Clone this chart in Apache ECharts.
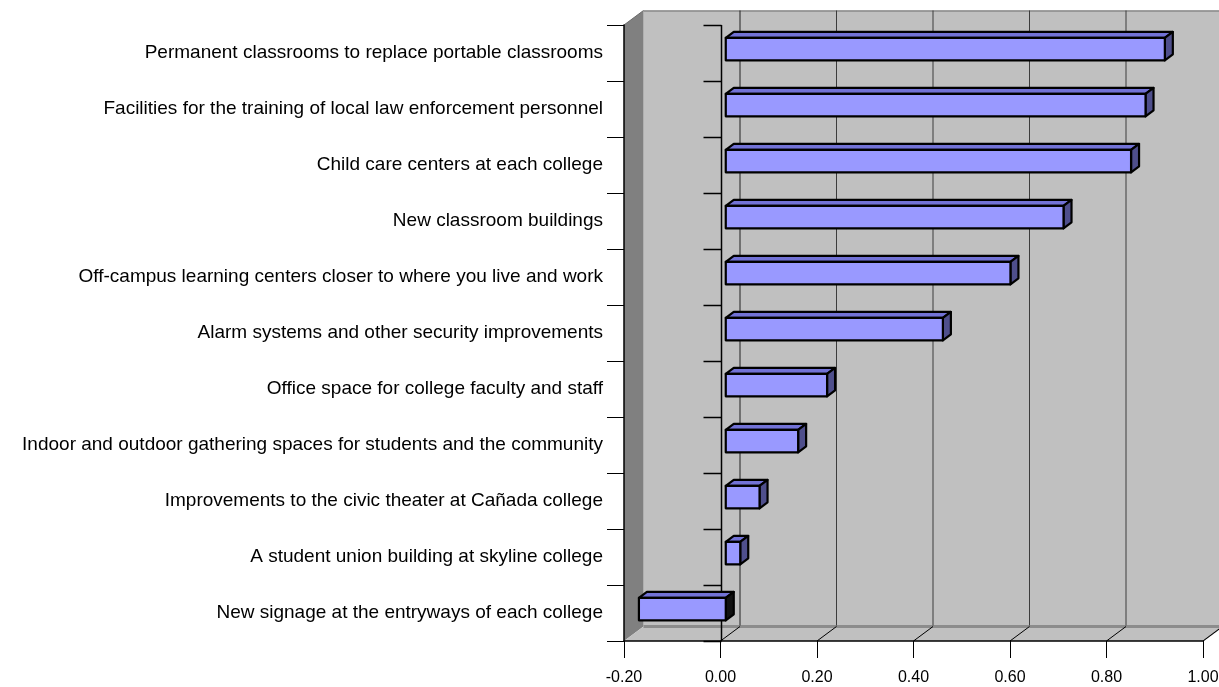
<!DOCTYPE html>
<html>
<head>
<meta charset="utf-8">
<title>Facility priorities</title>
<script src="https://cdn.jsdelivr.net/npm/echarts@6/dist/echarts.min.js"></script>
<style>
  html, body { margin: 0; padding: 0; background: #ffffff; }
  #chart { width: 1219px; height: 687px; }
</style>
</head>
<body>
<div id="chart"></div>
<script>
// Facility items, top to bottom
const categories = [
  'Permanent classrooms to replace portable classrooms',
  'Facilities for the training of local law enforcement personnel',
  'Child care centers at each college',
  'New classroom buildings',
  'Off-campus learning centers closer to where you live and work',
  'Alarm systems and other security improvements',
  'Office space for college faculty and staff',
  'Indoor and outdoor gathering spaces for students and the community',
  'Improvements to the civic theater at Cañada college',
  'A student union building at skyline college',
  'New signage at the entryways of each college'
];

// Net score for each item
const scores = [0.91, 0.87, 0.84, 0.70, 0.59, 0.45, 0.21, 0.15, 0.07, 0.03, -0.18];

// Value axis ticks
const tickValues = [-0.2, 0, 0.2, 0.4, 0.6, 0.8, 1.0];
const axisMin = -0.2;
const axisMax = 1.0;
const axisStep = 0.2;

// Oblique depth of the 3-D box in pixels and where the bars sit inside it
const DEPTH_X = 19.5;
const DEPTH_Y = -14.5;
const BAR_FRONT = 0.27;
const BAR_BACK = 0.68;
const BAR_THICK = 0.4;

const FONT = '"Liberation Sans", Arial, sans-serif';

const chart = echarts.init(document.getElementById('chart'), null, { renderer: 'canvas' });

function line(x1, y1, x2, y2, stroke, width) {
  return {
    type: 'line',
    shape: { x1: x1, y1: y1, x2: x2, y2: y2 },
    style: { stroke: stroke, lineWidth: width }
  };
}
function poly(points, fill) {
  return { type: 'polygon', shape: { points: points }, style: { fill: fill, stroke: null } };
}

// Walls, floor, gridlines and the zero line of the 3-D box
function renderFrame(params, api) {
  const cs = params.coordSys;
  const L = cs.x, T = cs.y, R = cs.x + cs.width, B = cs.y + cs.height;
  const dx = DEPTH_X, dy = DEPTH_Y;
  const X = v => api.coord([v, 0])[0];
  const band = api.size([0, 1])[1];
  const kids = [];

  // back wall
  kids.push(poly([[L + dx, T + dy], [R + dx, T + dy], [R + dx, B + dy], [L + dx, B + dy]], '#c0c0c0'));
  kids.push(line(L + dx, T + dy + 0.5, R + dx, T + dy + 0.5, '#8a8a8a', 1.5));
  // left wall
  kids.push(poly([[L, T], [L + dx, T + dy], [L + dx, B + dy], [L, B]], '#808080'));
  kids.push(line(L, T, L + dx, T + dy, '#6a6a6a', 1));
  // floor
  kids.push(poly([[L, B], [L + dx, B + dy], [R + dx, B + dy], [R, B]], '#c0c0c0'));
  kids.push(line(L + dx, B + dy, R + dx, B + dy, '#8c8c8c', 3));
  kids.push(line(R, B, R + dx, B + dy, '#8c8c8c', 1.5));

  // gridlines on the back wall and their traces across the floor
  tickValues.forEach(v => {
    if (v <= axisMin) return;
    const xf = X(v);
    kids.push(line(xf + dx, T + dy, xf + dx, B + dy - 1, v === 0 ? '#202020' : '#3c3c3c', 1));
    kids.push(line(xf, B, xf + dx, B + dy, '#000000', 1));
  });

  // zero line on the front plane with its category ticks
  const x0 = Math.round(X(0)) + 0.5;
  kids.push(line(x0, T, x0, B, '#000000', 1.5));
  for (let i = 0; i <= categories.length; i++) {
    const y = Math.round(T + i * band) + 0.5;
    kids.push(line(x0 - 18, y, x0, y, '#000000', 1.5));
  }
  return { type: 'group', children: kids };
}

// One prism per item: front face, top face and end face
function renderBar(params, api) {
  const v = api.value(0);
  const i = api.value(1);
  const p0 = api.coord([0, i]);
  const p1 = api.coord([v, i]);
  const band = api.size([0, 1])[1];
  const h = band * BAR_THICK;
  const fx = DEPTH_X * BAR_FRONT, fy = DEPTH_Y * BAR_FRONT;
  const ddx = DEPTH_X * (BAR_BACK - BAR_FRONT), ddy = DEPTH_Y * (BAR_BACK - BAR_FRONT);
  const xl = Math.min(p0[0], p1[0]) + fx;
  const xr = Math.max(p0[0], p1[0]) + fx;
  const yt = p0[1] - h / 2 + fy;
  const yb = p0[1] + h / 2 + fy;
  const edge = { stroke: '#000000', lineWidth: 2.2, lineJoin: 'round' };
  return {
    type: 'group',
    children: [
      { type: 'polygon',
        shape: { points: [[xl, yt], [xr, yt], [xr + ddx, yt + ddy], [xl + ddx, yt + ddy]] },
        style: Object.assign({ fill: '#7272d6' }, edge) },
      { type: 'polygon',
        shape: { points: [[xr, yt], [xr + ddx, yt + ddy], [xr + ddx, yb + ddy], [xr, yb]] },
        style: Object.assign({ fill: v < 0 ? '#111111' : '#4f4f8c' }, edge) },
      { type: 'rect',
        shape: { x: xl, y: yt, width: xr - xl, height: yb - yt },
        style: Object.assign({ fill: '#9999ff' }, edge) }
    ]
  };
}

const option = {
  animation: false,
  backgroundColor: '#ffffff',
  grid: { left: 624, right: 16, top: 25, bottom: 46, outerBoundsMode: 'none', containLabel: false },
  xAxis: {
    type: 'value',
    min: axisMin,
    max: axisMax,
    interval: axisStep,
    z: 10,
    axisLine: { show: true, onZero: false, lineStyle: { color: '#000000', width: 1.5 } },
    axisTick: { show: true, inside: false, length: 17, lineStyle: { color: '#000000', width: 1 } },
    splitLine: { show: false },
    axisLabel: {
      margin: 29,
      color: '#000000',
      fontFamily: FONT,
      fontSize: 16,
      formatter: v => v.toFixed(2)
    }
  },
  yAxis: {
    type: 'category',
    data: categories,
    inverse: true,
    z: 10,
    axisLine: { show: true, onZero: false, lineStyle: { color: '#000000', width: 1.5 } },
    axisTick: { show: true, inside: false, length: 17, lineStyle: { color: '#000000', width: 1 } },
    splitLine: { show: false },
    axisLabel: {
      margin: 21,
      color: '#000000',
      fontFamily: FONT,
      fontSize: 19
    }
  },
  series: [
    {
      type: 'custom',
      name: 'frame',
      clip: false,
      silent: true,
      z: 1,
      data: [[0, 0]],
      renderItem: renderFrame
    },
    {
      type: 'custom',
      name: 'scores',
      clip: false,
      z: 5,
      data: scores.map((v, i) => [v, i]),
      encode: { x: 0, y: 1 },
      renderItem: renderBar
    }
  ]
};

chart.setOption(option);
</script>
</body>
</html>
